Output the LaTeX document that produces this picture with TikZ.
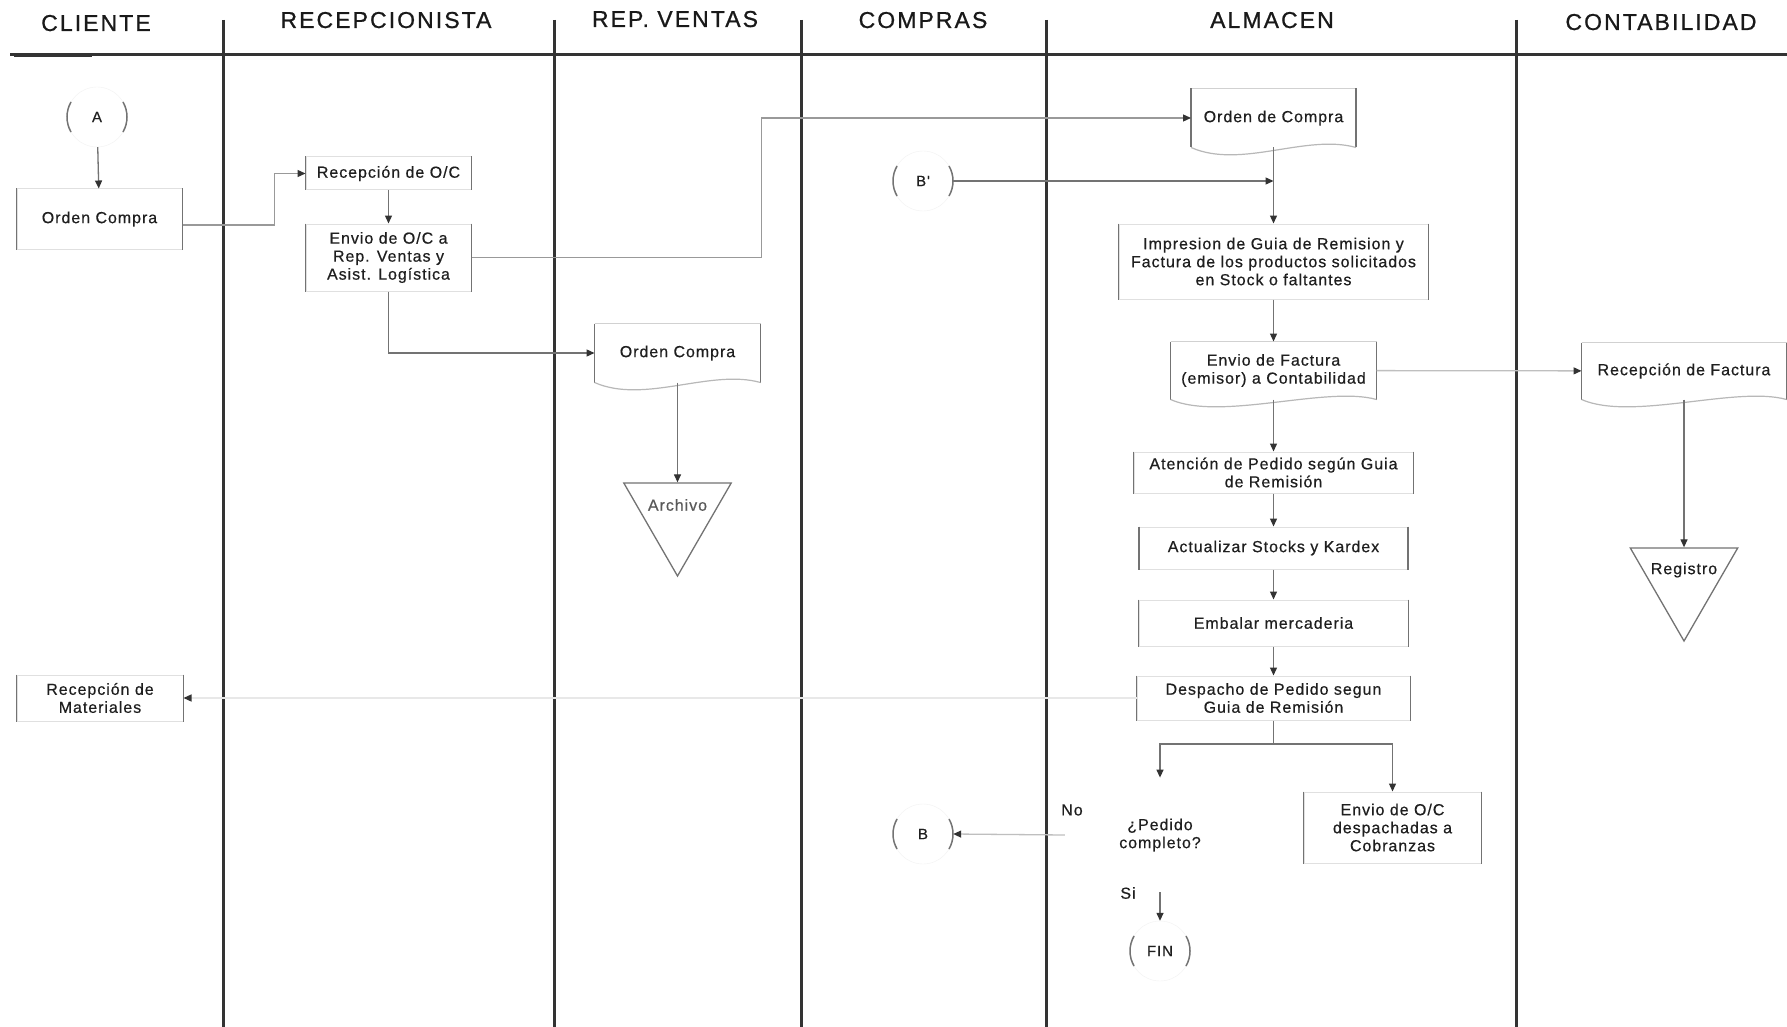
\documentclass[tikz,border=0pt]{standalone}
\usepackage{fontspec}
\setmainfont{Liberation Sans}
\newfontfamily\boxfont{Liberation Sans}[LetterSpace=6,FakeBold=0.5]
\newfontfamily\headfont{Liberation Sans}[LetterSpace=9,FakeBold=0.8]
\usetikzlibrary{arrows.meta,shapes.geometric,calc}

\tikzset{
  lane/.style={draw=black!80, line width=3pt},
  hdr/.style={font=\headfont\fontsize{23}{27}\selectfont, text=black!90, anchor=base, inner sep=0pt},
  box/.style={rectangle, draw=black!12, line width=1pt, align=center, inner sep=1pt,
              font=\boxfont\fontsize{16}{18}\selectfont, text=black!88},
  doc/.style={box, draw=none},
  side/.style={draw=black!55, line width=1.5pt},
  wavy/.style={draw=black!28, line width=1.2pt},
  topline/.style={draw=black!18, line width=1pt},
  conn/.style={draw=black!55, line width=1.3pt, -{Triangle[length=8pt,width=7pt,color=black!80,fill=black!80]}},
  faint/.style={draw=black!25},
  link/.style={draw=black!55, line width=1.3pt},
  ring/.style={circle, minimum size=60pt, inner sep=0pt, draw=black!5, text=black!88,
               font=\boxfont\fontsize{15}{18}\selectfont},
  tri/.style={regular polygon, regular polygon sides=3, shape border rotate=180,
              draw=black!55, line width=1.3pt, minimum size=124pt, inner sep=0pt},
  lbl/.style={font=\boxfont\fontsize{16}{18}\selectfont, text=black!88, align=center},
}

\newcommand{\boxsides}[1]{\draw[side] (#1.north west) -- (#1.south west) (#1.north east) -- (#1.south east);}
\newcommand{\docwave}[1]{%
  \draw[topline] (#1.north west) -- (#1.north east);
  \draw[side] (#1.north west) -- (#1.south west) (#1.north east) -- (#1.south east);
  \draw[wavy] (#1.south west) .. controls +(50,22) and +(-50,-14) .. (#1.south east);}
\newcommand{\ringarcs}[1]{%
  \draw[side] (#1.center) ++(150:30) arc[start angle=150,end angle=210,radius=30];
  \draw[side] (#1.center) ++(-30:30) arc[start angle=-30,end angle=30,radius=30];}

\begin{document}
\begin{tikzpicture}[x=1pt,y=-1pt]
\useasboundingbox (0,0) rectangle (1787,1027);
\fill[white] (0,0) rectangle (1787,1027);

% headers
\node[hdr] (hcli) at (96,31) {CLIENTE};
\node[hdr] (hrec) at (386,28) {RECEPCIONISTA};
\node[hdr] (hrep) at (675,27) {REP. VENTAS};
\node[hdr] (hcom) at (923,28) {COMPRAS};
\node[hdr] (halm) at (1272,28) {ALMACEN};
\node[hdr] (hcon) at (1661,30) {CONTABILIDAD};

% lanes
\draw[lane] (10,55) -- (1787,55);
\draw[lane, line width=4.5pt] (14,55) -- (92,55);
\foreach \x in {223,554,801,1046,1516} \draw[lane] (\x,20) -- (\x,1027);

% CLIENTE
\node[ring] (A) at (97,117) {A};
\node[box, minimum width=165pt, minimum height=60pt] (OC) at (99.5,219) {Orden Compra};
\node[box, minimum width=166pt, minimum height=46pt] (RM) at (100,698) {Recepción de\\Materiales};

% RECEPCIONISTA
\node[box, minimum width=165pt, minimum height=33pt] (ROC) at (388.5,173.5) {Recepción de O/C};
\node[box, minimum width=165pt, minimum height=67pt] (EOC) at (388.5,257.5) {Envio de O/C a\\Rep. Ventas y\\Asist. Logística};

% REP. VENTAS
\node[doc, minimum width=165pt, minimum height=58pt] (OCR) at (677.5,353) {Orden Compra};
\node[tri] (ARC) at (677.5,514) {};
\node[lbl, text=black!65] (ARCt) at (677.5,505) {Archivo};

% COMPRAS
\node[ring] (Bp) at (923,181) {B'};
\node[ring] (B) at (923,834) {B};

% ALMACEN
\node[doc, minimum width=164pt, minimum height=58pt] (OCA) at (1273.5,118) {Orden de Compra};
\coordinate (BJ) at (1273.5,181);
\node[box, minimum width=309pt, minimum height=75pt] (IMP) at (1273.5,261.5) {Impresion de Guia de Remision y\\Factura de los productos solicitados\\en Stock o faltantes};
\node[doc, minimum width=205pt, minimum height=57pt] (EF) at (1273.5,370.5) {Envio de Factura\\(emisor) a Contabilidad};
\node[box, minimum width=279pt, minimum height=41pt] (AT) at (1273.5,472.5) {Atención de Pedido según Guia\\de Remisión};
\node[box, minimum width=268pt, minimum height=42pt] (ACT) at (1273.5,548) {Actualizar Stocks y Kardex};
\node[box, minimum width=269pt, minimum height=46pt] (EMB) at (1273.5,623) {Embalar mercaderia};
\node[box, minimum width=273pt, minimum height=44pt] (DES) at (1273.5,698) {Despacho de Pedido segun\\Guia de Remisión};
\coordinate (SPL) at (1273.5,744);
\node[diamond, lbl, minimum width=190pt, minimum height=90pt, inner sep=0pt] (PED) at (1160,835) {¿Pedido\\completo?};
\node[box, minimum width=177pt, minimum height=71pt] (COB) at (1392.5,827.5) {Envio de O/C\\despachadas a\\Cobranzas};
\node[ring] (FIN) at (1160,951) {FIN};
\node[lbl] (NO) at (1072,810) {No};
\node[lbl] (SI) at (1128,893) {Si};

% CONTABILIDAD
\node[doc, minimum width=204pt, minimum height=56pt] (RF) at (1684,371) {Recepción de Factura};
\node[tri] (REG) at (1684,579) {};
\node[lbl] (REGt) at (1684,570) {Registro};

% decorations of shapes
\foreach \n in {OC,RM,ROC,EOC,IMP,AT,ACT,EMB,DES,COB} {\boxsides{\n}}
\foreach \n in {OCR,OCA,EF,RF} {\docwave{\n}}
\foreach \n in {A,Bp,B,FIN} {\ringarcs{\n}}

% connectors
\draw[conn] (A) -- (OC);
\draw[conn, draw=black!40] (OC.east) ++(0,6) -- ++(92,0) |- (ROC.west);
\draw[conn] (ROC) -- (EOC);
\draw[conn, draw=black!40] (EOC.east) -- ++(290,0) |- (OCA.west);
\draw[conn] (EOC.south) |- (OCR.west);
\draw[conn] (OCR.south) -- (ARC.north);
\draw[conn] (Bp.east) -- (BJ);
\draw[conn] (OCA) -- (IMP);
\draw[conn] (IMP) -- (EF);
\draw[conn, faint] (EF) -- (RF);
\draw[conn] (RF.south) -- (REG.north);
\draw[conn] (EF) -- (AT);
\draw[conn] (AT) -- (ACT);
\draw[conn] (ACT) -- (EMB);
\draw[conn] (EMB) -- (DES);
\draw[link] (DES) -- (SPL);
\draw[conn] (SPL) -| (PED.north);
\draw[conn] (SPL) -| (COB.north);
\draw[conn, faint] (PED.west) -- (B.east);
\draw[conn] (PED.south) -- (FIN.north);
\draw[conn, draw=black!9] (DES.west) -- (RM.east);
\end{tikzpicture}
\end{document}
